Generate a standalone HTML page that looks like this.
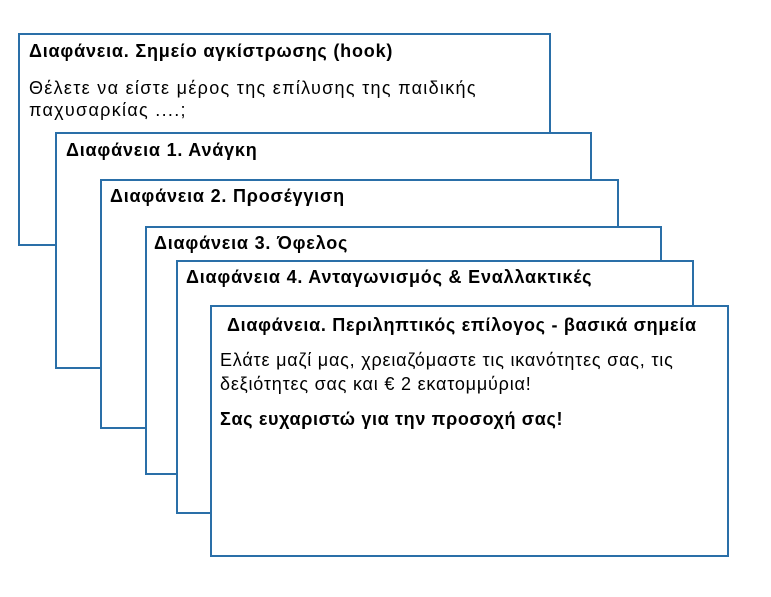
<!DOCTYPE html>
<html><head><style>
body{margin:0;width:771px;height:597px;background:#fff;position:relative;overflow:hidden;font-family:"Liberation Sans","DejaVu Sans",sans-serif;color:#000}
.b{position:absolute;background:#fff;border:2px solid #2a6fa8;box-sizing:border-box;font-size:18px;}
.t{position:absolute;font-weight:bold;white-space:nowrap;letter-spacing:0.8px;line-height:22px}
.p{position:absolute;white-space:nowrap;line-height:22px;letter-spacing:1.3px}
</style></head><body>
<div class="b" style="left:18px;top:33px;width:533px;height:213px">
<div class="t" style="left:9px;top:5px">Διαφάνεια. Σημείο αγκίστρωσης (hook)</div>
<div class="p" style="left:9px;top:42px">Θέλετε να είστε μέρος της επίλυσης της παιδικής<br>παχυσαρκίας ....;</div>
</div>
<div class="b" style="left:55px;top:132px;width:537px;height:237px">
<div class="t" style="left:9px;top:5px">Διαφάνεια 1. Ανάγκη</div></div>
<div class="b" style="left:100px;top:179px;width:519px;height:250px">
<div class="t" style="left:8px;top:4px">Διαφάνεια 2. Προσέγγιση</div></div>
<div class="b" style="left:145px;top:226px;width:517px;height:249px">
<div class="t" style="left:7px;top:4px">Διαφάνεια 3. Όφελος</div></div>
<div class="b" style="left:176px;top:260px;width:518px;height:254px">
<div class="t" style="left:8px;top:4px">Διαφάνεια 4. Ανταγωνισμός &amp; Εναλλακτικές</div></div>
<div class="b" style="left:210px;top:305px;width:519px;height:252px">
<div class="t" style="left:15px;top:7px;letter-spacing:0.7px">Διαφάνεια. Περιληπτικός επίλογος - βασικά σημεία</div>
<div class="p" style="left:8px;top:41px;line-height:24px;letter-spacing:0.8px">Ελάτε μαζί μας, χρειαζόμαστε τις ικανότητες σας, τις<br>δεξιότητες σας και € 2 εκατομμύρια!</div>
<div class="t" style="left:8px;top:101px;letter-spacing:0.65px">Σας ευχαριστώ για την προσοχή σας!</div>
</div>
</body></html>
